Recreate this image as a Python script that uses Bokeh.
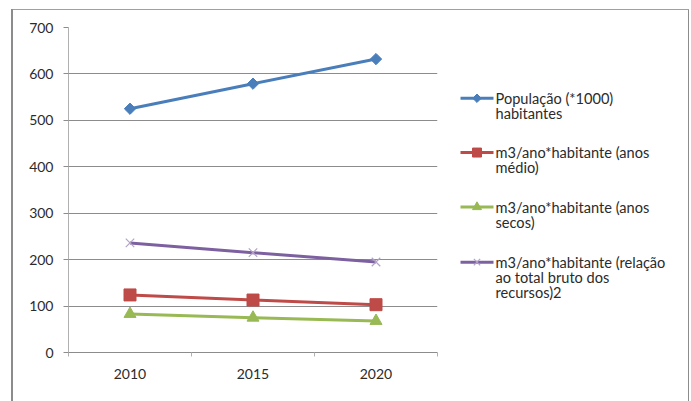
from bokeh.plotting import figure
from bokeh.layouts import row
from bokeh.models import Range1d, LinearAxis, FixedTicker
from bokeh.core.properties import value
from bokeh.embed import file_html
from bokeh.resources import INLINE
import math

years = ["2010", "2015", "2020"]
populacao = [525, 579, 632]
anos_medio = [124, 113, 103]
anos_secos = [83, 75, 68]
relacao_total = [236, 215, 195]

series_labels = [
    ["População (*1000)", "habitantes"],
    ["m3/ano*habitante (anos", "médio)"],
    ["m3/ano*habitante (anos", "secos)"],
    ["m3/ano*habitante (relação", "ao total bruto dos", "recursos)2"],
]

FONT = "Lato"
TEXT = "#2b2b2b"
GRID = "#8c8c8c"

styles = [
    dict(color="#4a7ebb", marker="square", size=8, angle=math.pi / 4, fill="#4a7ebb"),
    dict(color="#be4b48", marker="square", size=12, angle=0, fill="#be4b48"),
    dict(color="#98b954", marker="triangle", size=12, angle=0, fill="#98b954"),
    dict(color="#7d60a0", marker="x", size=12, angle=0, fill="#b3a2c7"),
]
values = [populacao, anos_medio, anos_secos, relacao_total]

# each year sits in the middle of its own band of width 1
x_pos = [i + 0.5 for i in range(len(years))]


def add_marker(fig, xs, ys, st, scale=1.0):
    if st["marker"] == "x":
        fig.scatter(xs, ys, marker="x", size=st["size"] * scale,
                    line_color=st["fill"], line_width=1.2)
    else:
        fig.scatter(xs, ys, marker=st["marker"], size=st["size"] * scale,
                    angle=st["angle"], fill_color=st["fill"],
                    line_color=st["color"], line_width=1)


# ---- chart -------------------------------------------------------------
p = figure(
    x_range=Range1d(0, len(years)),
    y_range=Range1d(0, 700),
    frame_width=369, frame_height=325,
    min_border_left=68, min_border_right=3,
    min_border_top=27, min_border_bottom=49,
    x_axis_location=None,
    output_backend="svg", toolbar_location=None,
    background_fill_color="white", border_fill_color=None,
)
p.outline_line_color = None

# tick marks on the band boundaries
bound_axis = LinearAxis(ticker=FixedTicker(ticks=list(range(len(years) + 1)), minor_ticks=[]))
bound_axis.axis_line_color = GRID
bound_axis.major_tick_line_color = "#b0b0b0"
bound_axis.major_tick_out = 4
bound_axis.major_tick_in = 0
bound_axis.minor_tick_line_color = None
bound_axis.major_label_text_font_size = "1px"
bound_axis.major_label_text_alpha = 0
bound_axis.major_label_standoff = 0
p.add_layout(bound_axis, "below")

# year labels in the middle of each band
year_axis = LinearAxis(ticker=FixedTicker(ticks=x_pos, minor_ticks=[]),
                       major_label_overrides={x: y for x, y in zip(x_pos, years)})
year_axis.axis_line_color = None
year_axis.major_tick_line_color = None
year_axis.major_tick_out = 0
year_axis.major_tick_in = 0
year_axis.minor_tick_line_color = None
year_axis.major_label_standoff = 12
year_axis.major_label_text_font = FONT
year_axis.major_label_text_font_size = "14px"
year_axis.major_label_text_color = TEXT
p.add_layout(year_axis, "below")

p.yaxis.ticker = FixedTicker(ticks=list(range(0, 701, 100)))
p.yaxis.axis_line_color = "#b0b0b0"
p.yaxis.major_tick_line_color = GRID
p.yaxis.major_tick_out = 5
p.yaxis.major_tick_in = 0
p.yaxis.minor_tick_line_color = None
p.yaxis.major_label_standoff = 10
p.yaxis.major_label_text_font = FONT
p.yaxis.major_label_text_font_size = "14px"
p.yaxis.major_label_text_color = TEXT
p.xgrid.grid_line_color = None
p.ygrid.grid_line_color = GRID
p.ygrid.grid_line_width = 1

for vals, st in zip(values, styles):
    p.line(x_pos, vals, line_color=st["color"], line_width=3)
    add_marker(p, x_pos, vals, st)

# ---- legend panel ------------------------------------------------------
W_LEG = 691 - 440
leg = figure(
    x_range=Range1d(0, W_LEG), y_range=Range1d(401, 0),
    width=W_LEG, height=401, min_border=0,
    output_backend="svg", toolbar_location=None,
    background_fill_color=None, border_fill_color=None,
)
leg.axis.visible = False
leg.grid.visible = False
leg.outline_line_color = None

row_y = [87.3, 154.3, 221.5, 289.5]
line_gap = 18.7
sw_x0, sw_x1, txt_x = 20, 53, 55
for lab, st, y0 in zip(series_labels, styles, row_y):
    leg.line([sw_x0, sw_x1], [y0, y0], line_color=st["color"], line_width=3)
    add_marker(leg, [(sw_x0 + sw_x1) / 2], [y0], st, scale=0.75)
    leg.text([txt_x] * len(lab), [y0 + line_gap * k for k in range(len(lab))], text=lab,
             text_font=value(FONT), text_font_size="14.6px", text_color=TEXT,
             text_baseline="middle", text_align="left")

layout = row(
    p, leg,
    styles={
        "background": (
            "linear-gradient(#8c8c8c,#8c8c8c) 11px 9px / 2px 392px no-repeat,"
            "linear-gradient(#a0a0a0,#a0a0a0) 11px 9px / 678px 1px no-repeat,"
            "linear-gradient(#8c8c8c,#8c8c8c) 688px 9px / 1px 392px no-repeat,"
            "white"
        )
    },
)

open("out.html", "w").write(file_html(layout, INLINE))
